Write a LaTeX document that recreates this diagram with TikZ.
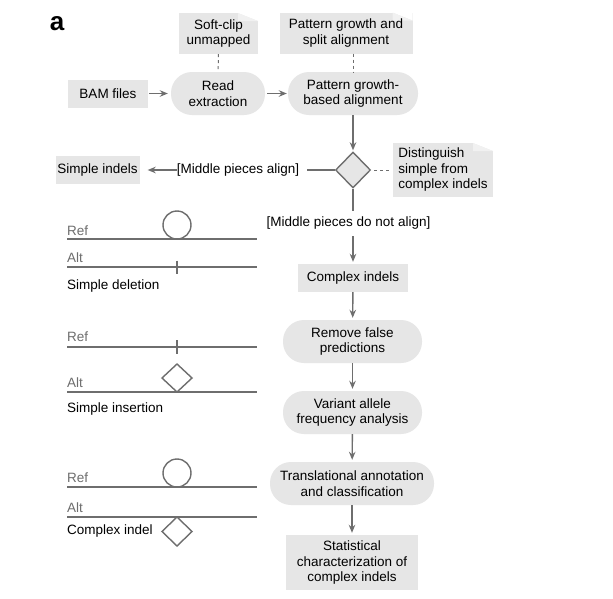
\documentclass[tikz,border=0pt]{standalone}
\usepackage{fontspec}
\setmainfont{Liberation Sans}
\usetikzlibrary{arrows.meta,shapes.geometric}
\definecolor{boxgray}{HTML}{E6E6E6}
\definecolor{linegray}{HTML}{6E6E6E}
\definecolor{foldgray}{HTML}{F1F1F1}
\begin{document}
\begin{tikzpicture}[x=1pt,y=-1pt,
  every node/.style={font=\fontsize{13.5}{15.5}\selectfont, inner sep=0pt, align=center},
  box/.style={fill=boxgray},
  roundbox/.style={fill=boxgray, rounded corners=21pt, minimum height=43pt},
  note/.style={fill=boxgray, path picture={
    \fill[white] ([xshift=-20pt]path picture bounding box.north east) -- (path picture bounding box.north east) -- ([yshift=-8pt]path picture bounding box.north east) -- cycle;
    \fill[foldgray] ([xshift=-20pt]path picture bounding box.north east) -- ([xshift=-20pt,yshift=-8pt]path picture bounding box.north east) -- ([yshift=-8pt]path picture bounding box.north east) -- cycle;
  }},
  conn/.style={draw=linegray, line width=1.4pt},
  arr/.style={conn, -{Stealth[length=8pt,width=6.5pt]}},
  dashconn/.style={draw=linegray, line width=1pt, dash pattern=on 3pt off 3pt},
  graylbl/.style={anchor=west, text=linegray},
  blacklbl/.style={anchor=west}
]
\useasboundingbox[fill=white] (0,0) rectangle (613,598);

\node[font=\fontsize{26}{26}\selectfont\bfseries] (panel) at (57,24) {a};

% top row
\node[box, minimum width=80pt, minimum height=28pt] (bam) at (108,93.5) {BAM files};
\node[roundbox, minimum width=94pt] (read) at (218,93.5) {Read\\extraction};
\node[roundbox, minimum width=130pt] (pga) at (353,93.5) {Pattern growth-\\based alignment};
\node[note, minimum width=79pt, minimum height=41pt] (soft) at (218.5,33.5) {Soft-clip\\unmapped};
\node[note, minimum width=133pt, minimum height=41pt] (psa) at (346,33) {Pattern growth and\\split alignment};

% decision
\node[diamond, fill=boxgray, draw=linegray, line width=1.4pt, minimum width=35pt, minimum height=36pt] (dec) at (353,170) {};
\node[note, minimum width=100pt, minimum height=54pt, align=left] (dist) at (443,170) {Distinguish\\simple from\\complex indels};
\node[box, minimum width=84pt, minimum height=28pt] (simple) at (97.5,170) {Simple indels};
\node (alignlbl) at (238,170) {[Middle pieces align]};
\node (noalign) at (348.5,223) {[Middle pieces do not align]};

% lower chain
\node[box, minimum width=110pt, minimum height=28pt] (complex) at (353,278) {Complex indels};
\node[roundbox, minimum width=139pt] (remove) at (352.5,341.5) {Remove false\\predictions};
\node[roundbox, minimum width=139pt] (vaf) at (352.5,412.5) {Variant allele\\frequency analysis};
\node[roundbox, minimum width=164pt] (trans) at (352,483.5) {Translational annotation\\and classification};
\node[box, minimum width=132pt, minimum height=55pt] (stat) at (352,562.5) {Statistical\\characterization of\\complex indels};

% connectors
\draw[arr, shorten >=3pt, shorten <=1pt] (bam) -- (read);
\draw[arr, shorten >=1pt, shorten <=2pt] (read) -- (pga);
\draw[dashconn] (soft) -- (read);
\draw[dashconn] (pga.north |- psa.south) -- (pga.north);
\draw[arr, shorten >=1pt] (pga) -- (dec);
\draw[dashconn, shorten <=3pt, shorten >=1pt] (dec) -- (dist);
\draw[conn, shorten >=8pt] (dec) -- (alignlbl);
\draw[arr, shorten >=8pt] (alignlbl) -- (simple);
\draw[conn] (dec.south) -- ([yshift=6pt]dec.south |- noalign.north);
\draw[arr, shorten >=2pt] ([yshift=-7pt]dec.south |- noalign.south) -- (complex.north);
\draw[arr, shorten >=2pt] (complex) -- (remove);
\draw[arr, shorten >=2pt] (remove) -- (vaf);
\draw[arr, shorten >=2pt] (vaf) -- (trans);
\draw[arr, shorten >=2pt] (trans) -- (stat);

% simple deletion
\node[graylbl] (ref1) at (67,231) {Ref};
\draw[conn] (67,239) -- (257,239);
\draw[conn] (177,225) circle[radius=14pt];
\node[graylbl] (alt1) at (67,258) {Alt};
\draw[conn] (67,267) -- (257,267);
\draw[conn] (177,260.5) -- (177,274);
\node[blacklbl] (sdel) at (67,286) {Simple deletion};

% simple insertion
\node[graylbl] (ref2) at (67,337) {Ref};
\draw[conn] (67,347) -- (257,347);
\draw[conn] (177,340) -- (177,353.5);
\draw[conn] (177,364) -- (192,378) -- (177,392) -- (162,378) -- cycle;
\node[graylbl] (alt2) at (67,383) {Alt};
\draw[conn] (67,392) -- (257,392);
\node[blacklbl] (sins) at (67,409) {Simple insertion};

% complex indel
\node[graylbl] (ref3) at (67,478) {Ref};
\draw[conn] (67,487) -- (257,487);
\draw[conn] (177,473) circle[radius=14pt];
\node[graylbl] (alt3) at (67,508) {Alt};
\draw[conn] (67,517) -- (257,517);
\draw[conn] (177,517) -- (192,531.5) -- (177,546) -- (162,531.5) -- cycle;
\node[blacklbl] (cind) at (67,531) {Complex indel};
\end{tikzpicture}
\end{document}
